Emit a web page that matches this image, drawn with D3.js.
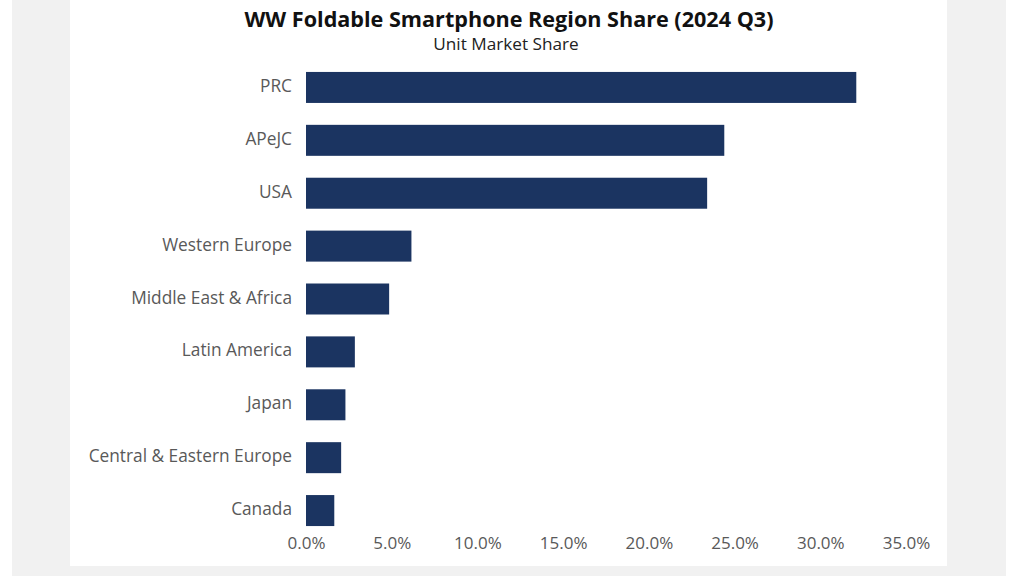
<!DOCTYPE html>
<html>
<head>
<meta charset="utf-8">
<script src="https://cdn.jsdelivr.net/npm/d3@7"></script>
<style>
html, body { margin: 0; padding: 0; background: #ffffff; }
svg { display: block; }
</style>
</head>
<body>
<svg id="chart" width="1024" height="576"></svg>
<script>
const categories = ["PRC", "APeJC", "USA", "Western Europe", "Middle East & Africa", "Latin America", "Japan", "Central & Eastern Europe", "Canada"];
const shares = [32.1, 24.4, 23.4, 6.15, 4.85, 2.85, 2.3, 2.05, 1.65];
const tickValues = [0, 5, 10, 15, 20, 25, 30, 35];
const titleText = "WW Foldable Smartphone Region Share (2024 Q3)";
const subtitleText = "Unit Market Share";

const svg = d3.select("#chart");
const font = "'Open Sans', 'Noto Sans', sans-serif";

// background layers
svg.append("rect").attr("x", 0).attr("y", 0).attr("width", 1024).attr("height", 576).attr("fill", "#ffffff");
svg.append("rect").attr("x", 12).attr("y", 0).attr("width", 994).attr("height", 576).attr("fill", "#f1f1f1");
svg.append("rect").attr("x", 70).attr("y", 0).attr("width", 877).attr("height", 566).attr("fill", "#ffffff");

const x = d3.scaleLinear().domain([0, 35]).range([306, 906]);
const y = d3.scaleBand().domain(categories).range([61, 537]).paddingInner(0.414).paddingOuter(0.207);

svg.append("text").attr("x", 509).attr("y", 27).attr("text-anchor", "middle")
  .attr("font-family", font).attr("font-weight", 700).attr("font-size", 21.6)
  .attr("fill", "#111111").text(titleText);
svg.append("text").attr("x", 506).attr("y", 50).attr("text-anchor", "middle")
  .attr("font-family", font).attr("font-size", 17.2)
  .attr("fill", "#222222").text(subtitleText);

svg.append("g").selectAll("rect").data(categories).join("rect")
  .attr("x", x(0))
  .attr("y", d => y(d))
  .attr("width", (d, i) => x(shares[i]) - x(0))
  .attr("height", y.bandwidth())
  .attr("fill", "#1b3461");

const yAxis = d3.axisLeft(y).tickSize(0).tickPadding(14);
const gy = svg.append("g").attr("transform", `translate(${x(0)},-1)`).call(yAxis);
gy.select(".domain").remove();
gy.selectAll("text").attr("font-family", font).attr("font-size", 17.3).attr("fill", "#595959");

const xAxis = d3.axisBottom(x).tickValues(tickValues).tickSize(0).tickPadding(0)
  .tickFormat(d => d.toFixed(1) + "%");
const gx = svg.append("g").attr("transform", `translate(0,534)`).call(xAxis);
gx.select(".domain").remove();
gx.selectAll("text").attr("font-family", font).attr("font-size", 17).attr("fill", "#595959").attr("dy", "0.9em");
</script>
</body>
</html>
